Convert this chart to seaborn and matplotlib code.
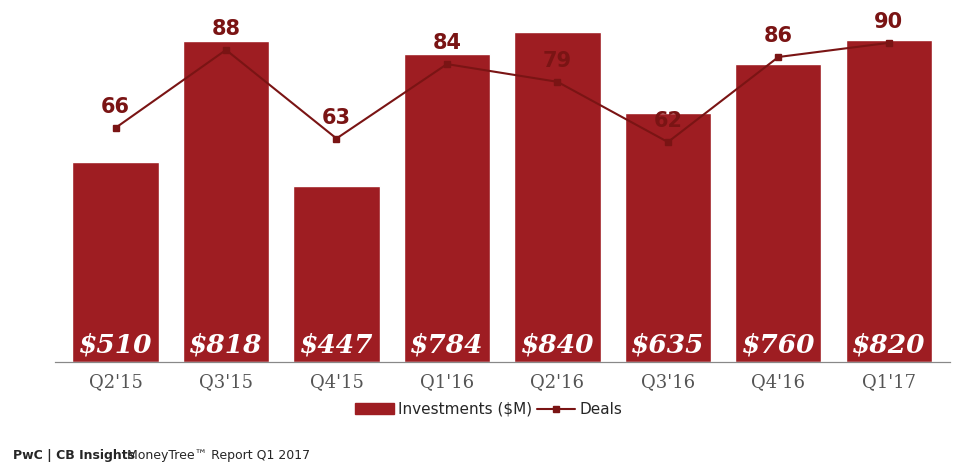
import matplotlib
matplotlib.use('Agg')
import matplotlib.pyplot as plt
import seaborn as sns
import pandas as pd
from matplotlib.lines import Line2D
from matplotlib.patches import Patch

quarters = ["Q2'15", "Q3'15", "Q4'15", "Q1'16", "Q2'16", "Q3'16", "Q4'16", "Q1'17"]
investments = [510, 818, 447, 784, 840, 635, 760, 820]
deals = [66, 88, 63, 84, 79, 62, 86, 90]

bar_color = '#9E1D22'
line_color = '#7A1414'

df = pd.DataFrame({'Quarter': quarters, 'Investments': investments, 'Deals': deals})

sns.set_style('white')
fig = plt.figure(figsize=(9.78, 4.76), dpi=100)
ax = fig.add_axes([0.056, 0.24, 0.915, 0.74])

sns.barplot(data=df, x='Quarter', y='Investments', color=bar_color, width=0.78,
            saturation=1, ax=ax)
ax.set_ylim(0, 898)
ax.set_xlim(-0.55, 7.55)
for i, v in enumerate(investments):
    ax.text(i, 12, f'${v}', ha='center', va='bottom', color='white',
            fontsize=19, fontweight='bold', fontstyle='italic', family='DejaVu Serif')

ax2 = ax.twinx()
ax2.plot(range(len(quarters)), deals, color=line_color, marker='s', markersize=5, lw=1.5)
ax2.set_ylim(0, 99.4)
for i, d in enumerate(deals):
    ax2.text(i, d + 3, str(d), ha='center', va='bottom', color=line_color,
             fontsize=15, fontweight='bold')

for a in (ax, ax2):
    a.set_yticks([])
    a.set_ylabel('')
    for s in ['top', 'right', 'left']:
        a.spines[s].set_visible(False)
    a.spines['bottom'].set_color('#888888')
ax.set_xlabel('')
ax.tick_params(axis='x', length=0, pad=8, labelsize=13, labelcolor='#555555')
for lab in ax.get_xticklabels():
    lab.set_family('DejaVu Serif')

handles = [Patch(color=bar_color, label='Investments ($M)'),
           Line2D([0], [0], color=line_color, marker='s', markersize=5, label='Deals')]
fig.legend(handles=handles, loc='center', bbox_to_anchor=(0.5, 0.14), ncol=2,
           frameon=False, fontsize=11, handlelength=2.5, columnspacing=0.3, handletextpad=0.3)

fig.text(0.013, 0.035, 'PwC | CB Insights', fontsize=9, fontweight='bold')
fig.text(0.13, 0.035, 'MoneyTree™ Report Q1 2017', fontsize=9)

fig.savefig('out.png', dpi=100)
